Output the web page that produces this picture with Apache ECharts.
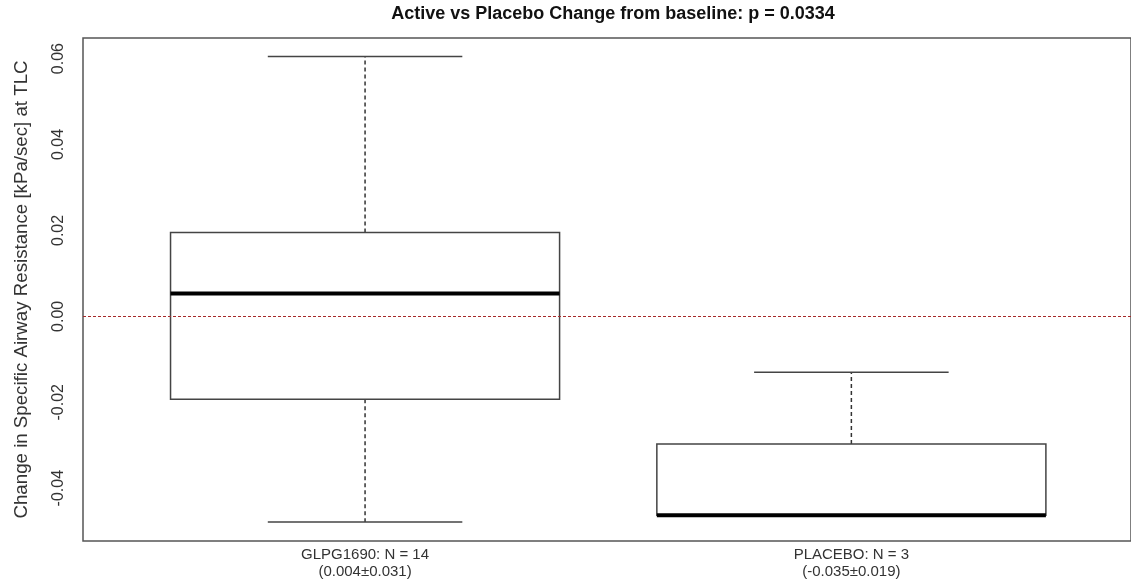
<!DOCTYPE html>
<html><head><meta charset="utf-8">
<script src="https://cdn.jsdelivr.net/npm/echarts@6/dist/echarts.min.js"></script>
<style>html,body{margin:0;padding:0;background:#fff}#c{width:1131px;height:580px}</style>
</head><body><div id="c"></div>
<script>
var categories = ['GLPG1690: N = 14', 'PLACEBO: N = 3'];
var summaries = ['(0.004\u00b10.031)', '(-0.035\u00b10.019)'];
// [min, q1, median, q3, max]
var boxValues = [
  [-0.0479, -0.0193, 0.0053, 0.0195, 0.0605],
  [-0.0463, -0.0463, -0.0463, -0.0297, -0.0130]
];
var yTicks = [-0.04, -0.02, 0.00, 0.02, 0.04, 0.06];
var refLine = 0;

var FONT = 'Liberation Sans, Arial, sans-serif';
var chart = echarts.init(document.getElementById('c'), null, {renderer: 'canvas'});
var data = boxValues.map(function (b, i) { return [i + 1].concat(b); });

chart.setOption({
  animation: false,
  backgroundColor: '#fff',
  title: {
    text: 'Active vs Placebo Change from baseline: p = 0.0334',
    left: 608, top: 0, textAlign: 'center',
    textStyle: {fontFamily: FONT, fontSize: 18, fontWeight: 'bold', color: '#111'}
  },
  grid: {left: 83, right: 0, top: 38, bottom: 38, show: true, borderColor: '#555', borderWidth: 1.5, backgroundColor: 'transparent'},
  xAxis: {
    type: 'value', min: 0.42, max: 2.575,
    axisLine: {show: false}, axisTick: {show: false}, splitLine: {show: false},
    axisLabel: {
      customValues: [1, 2], margin: 5, lineHeight: 17,
      fontFamily: FONT, fontSize: 15, color: '#333',
      formatter: function (v) { var i = Math.round(v) - 1; return categories[i] + '\n' + summaries[i]; }
    }
  },
  yAxis: {
    type: 'value', min: -0.0523, max: 0.0648,
    name: 'Change in Specific Airway Resistance [kPa/sec] at TLC',
    nameLocation: 'middle', nameGap: 52, nameRotate: 90,
    nameTextStyle: {fontFamily: FONT, fontSize: 18.7, color: '#333'},
    axisLine: {show: false}, axisTick: {show: false}, splitLine: {show: false},
    axisLabel: {
      customValues: yTicks, rotate: 90, margin: 16,
      fontFamily: FONT, fontSize: 16, color: '#333',
      formatter: function (v) { return v.toFixed(2); }
    }
  },
  series: [{
    type: 'custom',
    data: data,
    encode: {x: 0, y: [1, 2, 3, 4, 5]},
    renderItem: function (params, api) {
      var x = api.value(0);
      var pMin = api.coord([x, api.value(1)]);
      var pQ1 = api.coord([x, api.value(2)]);
      var pMed = api.coord([x, api.value(3)]);
      var pQ3 = api.coord([x, api.value(4)]);
      var pMax = api.coord([x, api.value(5)]);
      var half = api.size([0.4, 0])[0];
      var capHalf = api.size([0.2, 0])[0];
      var cx = pMed[0];
      var line = {stroke: '#444', lineWidth: 1.5};
      var dash = {stroke: '#333', lineWidth: 1.5, lineDash: [4, 3]};
      return {
        type: 'group',
        children: [
          {type: 'line', shape: {x1: cx, y1: pQ3[1], x2: cx, y2: pMax[1]}, style: dash},
          {type: 'line', shape: {x1: cx, y1: pQ1[1], x2: cx, y2: pMin[1]}, style: dash},
          {type: 'line', shape: {x1: cx - capHalf, y1: pMax[1], x2: cx + capHalf, y2: pMax[1]}, style: line},
          {type: 'line', shape: {x1: cx - capHalf, y1: pMin[1], x2: cx + capHalf, y2: pMin[1]}, style: line},
          {type: 'rect', shape: {x: cx - half, y: pQ3[1], width: 2 * half, height: pQ1[1] - pQ3[1]}, style: {fill: 'none', stroke: '#444', lineWidth: 1.5}},
          {type: 'line', shape: {x1: cx - half, y1: pMed[1], x2: cx + half, y2: pMed[1]}, style: {stroke: '#000', lineWidth: 4}}
        ]
      };
    },
    markLine: {
      silent: true, symbol: ['none', 'none'], label: {show: false},
      lineStyle: {color: '#a52a2a', type: [3, 2], width: 1, opacity: 1},
      emphasis: {disabled: true},
      data: [{yAxis: refLine}]
    }
  }]
});
</script></body></html>
